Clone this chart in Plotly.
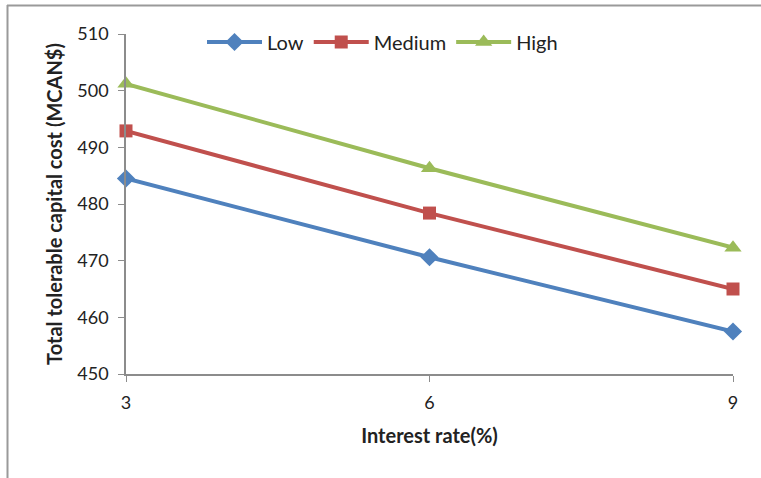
import plotly.graph_objects as go

# Interest rate scenarios (%)
rates = [3, 6, 9]
# Total tolerable capital cost (MCAN$) by price scenario
low = [484.5, 470.6, 457.5]
medium = [492.9, 478.4, 465.0]
high = [501.2, 486.3, 472.3]

series = [
    ("Low", low, "#4F81BD", "diamond", 14),
    ("Medium", medium, "#C0504D", "square", 13),
    ("High", high, "#9BBB59", "triangle-up", 15),
]

fig = go.Figure()
for name, vals, color, sym, size in series:
    fig.add_trace(go.Scatter(
        x=rates, y=vals, name=name, mode="lines+markers",
        line=dict(color=color, width=4),
        marker=dict(symbol=sym, size=size, color=color),
        cliponaxis=False,
    ))

W, H = 761, 478
L, R, T, B = 126, 28, 34, 104
pw, ph = W - L - R, H - T - B

def px(x):
    return (x - L) / pw

def py(y):
    return (H - B - y) / ph

FONT = "Lato, 'Open Sans', sans-serif"
tick_font = dict(family=FONT, size=18, color="#222")

fig.update_layout(
    width=W, height=H,
    margin=dict(l=L, r=R, t=T, b=B, autoexpand=False),
    paper_bgcolor="white", plot_bgcolor="white",
    showlegend=True,
    legend=dict(orientation="h", x=px(202), y=py(42), xanchor="left", yanchor="middle",
                font=dict(family=FONT, size=20, color="#222"),
                bgcolor="rgba(0,0,0,0)", itemwidth=55, tracegroupgap=0),
    xaxis=dict(range=[3, 9], tickvals=rates, ticktext=[str(r) for r in rates],
               showgrid=False, zeroline=False, showline=True, linecolor="#8C8C8C",
               linewidth=1.5, ticks="outside", ticklen=6, tickcolor="#8C8C8C",
               ticklabelstandoff=6, tickfont=tick_font,
               title=dict(text="<b>Interest rate(%)</b>", standoff=17,
                          font=dict(family=FONT, size=20, color="#222"))),
    yaxis=dict(range=[450, 510], tickvals=[450, 460, 470, 480, 490, 500, 510],
               showgrid=False, zeroline=False, showline=True, linecolor="#8C8C8C",
               linewidth=1.5, ticks="outside", ticklen=6, tickcolor="#8C8C8C",
               ticklabelstandoff=6, tickfont=tick_font,
               title=dict(text="<b>Total tolerable capital cost (MCAN$)</b>", standoff=9,
                          font=dict(family=FONT, size=20, color="#222"))),
    shapes=[
        dict(type="line", xref="paper", yref="paper",
             x0=px(7.5), x1=px(7.5), y0=py(5), y1=py(478),
             line=dict(color="#9A9A9A", width=2)),
        dict(type="line", xref="paper", yref="paper",
             x0=px(7), x1=px(761), y0=py(5.5), y1=py(5.5),
             line=dict(color="#9A9A9A", width=2)),
    ],
)

fig.write_html("out.html")
